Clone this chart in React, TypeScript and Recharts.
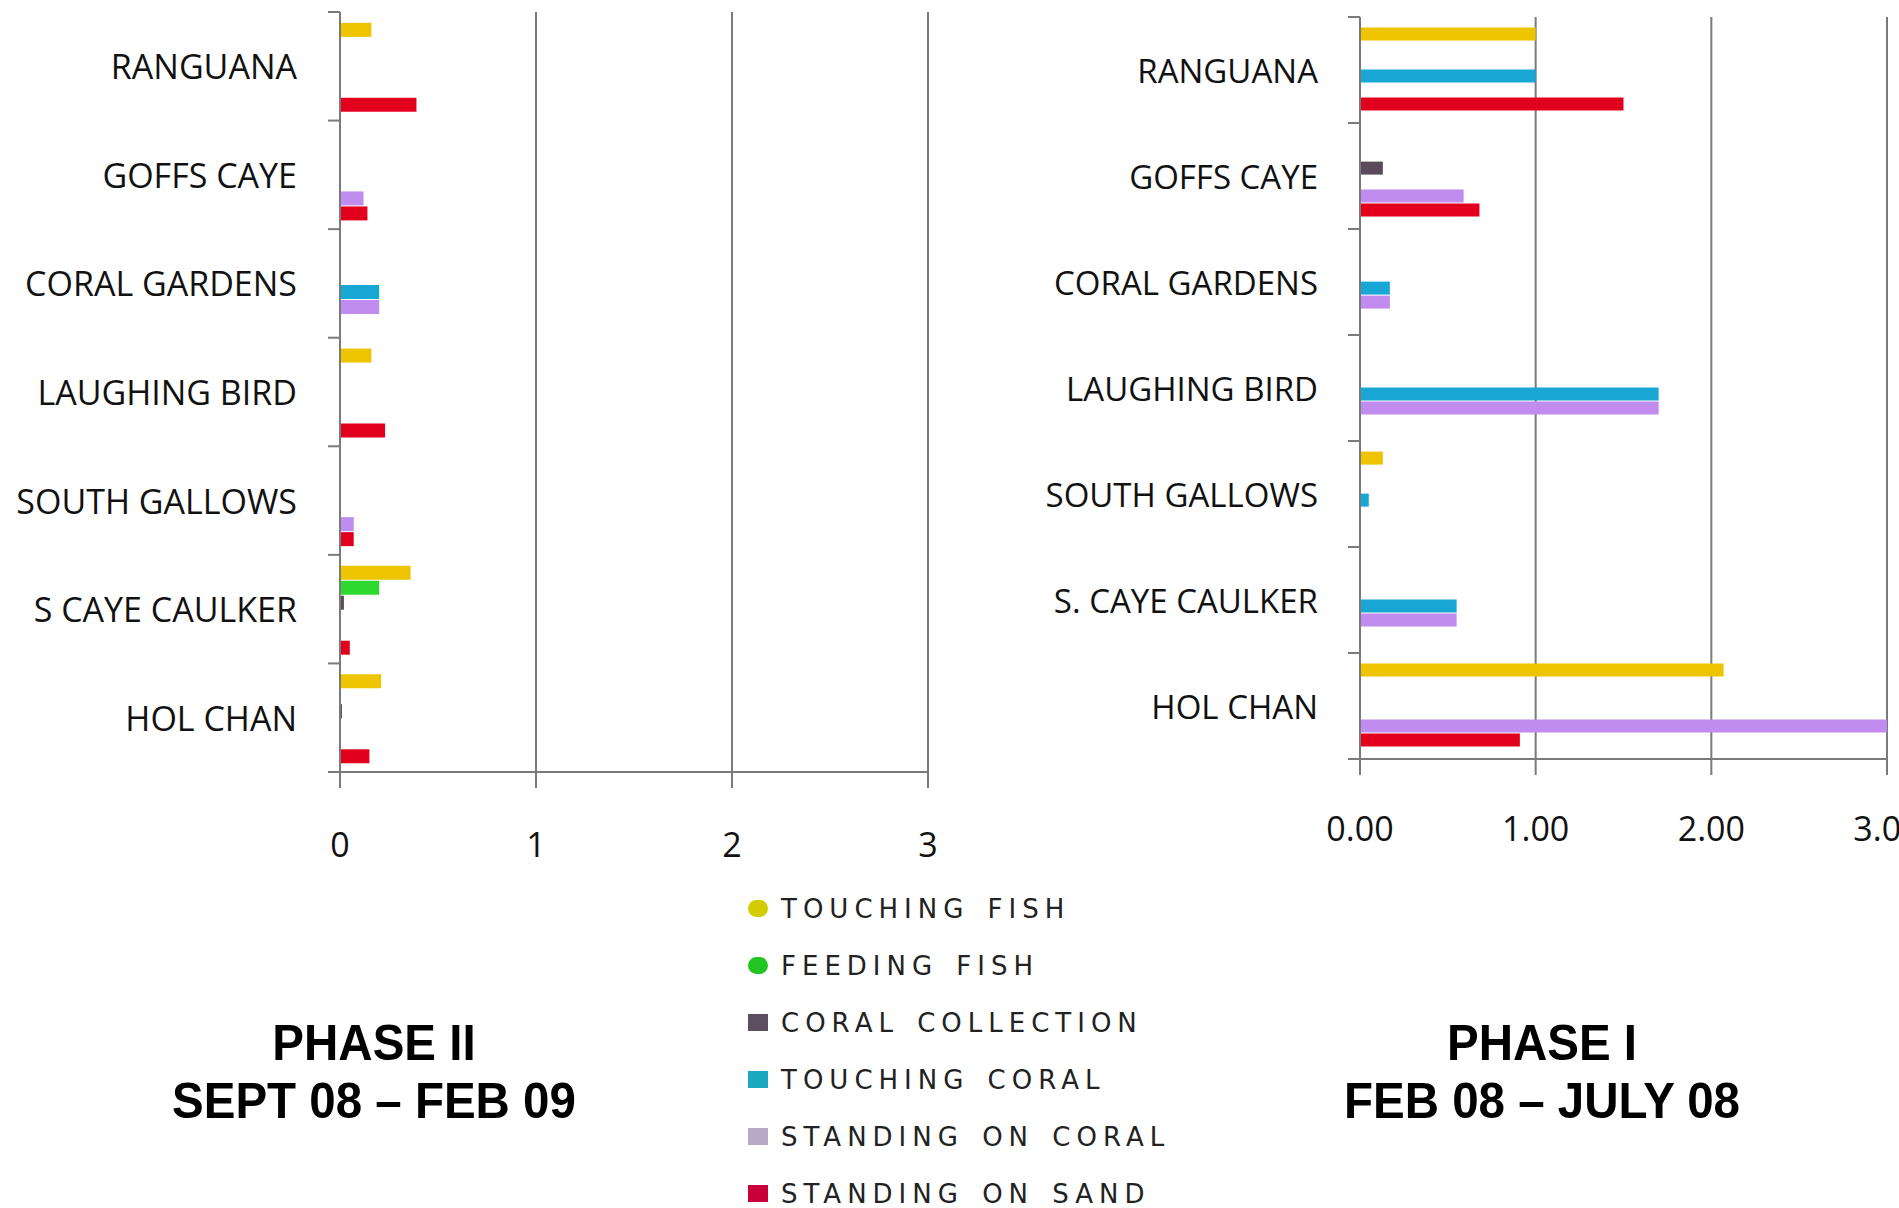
import { Bar, BarChart, CartesianGrid, XAxis, YAxis } from "recharts"

// categories (top to bottom)
const sitesPhase2 = ["RANGUANA", "GOFFS CAYE", "CORAL GARDENS", "LAUGHING BIRD", "SOUTH GALLOWS", "S CAYE CAULKER", "HOL CHAN"]
const sitesPhase1 = ["RANGUANA", "GOFFS CAYE", "CORAL GARDENS", "LAUGHING BIRD", "SOUTH GALLOWS", "S. CAYE CAULKER", "HOL CHAN"]

// PHASE II  SEPT 08 – FEB 09
const touchingFish2 = [0.16, 0, 0, 0.16, 0, 0.36, 0.21]
const feedingFish2 = [0, 0, 0, 0, 0, 0.2, 0]
const coralCollection2 = [0, 0, 0, 0, 0, 0.02, 0.01]
const touchingCoral2 = [0, 0, 0.2, 0, 0, 0, 0]
const standingCoral2 = [0, 0.12, 0.2, 0, 0.07, 0, 0]
const standingSand2 = [0.39, 0.14, 0, 0.23, 0.07, 0.05, 0.15]

// PHASE I  FEB 08 – JULY 08
const touchingFish1 = [1.0, 0, 0, 0, 0.13, 0, 2.07]
const feedingFish1 = [0, 0, 0, 0, 0, 0, 0]
const coralCollection1 = [0, 0.13, 0, 0, 0, 0, 0]
const touchingCoral1 = [1.0, 0, 0.17, 1.7, 0.05, 0.55, 0]
const standingCoral1 = [0, 0.59, 0.17, 1.7, 0, 0.55, 3.0]
const standingSand1 = [1.5, 0.68, 0, 0, 0, 0, 0.91]

const xTicks = [0, 1, 2, 3]

const series = [
  { key: "touchingFish", label: "TOUCHING FISH", color: "#EEC400", legend: "#D2CC00", round: true },
  { key: "feedingFish", label: "FEEDING FISH", color: "#2ED82E", legend: "#22C422", round: true },
  { key: "coralCollection", label: "CORAL COLLECTION", color: "#5A4A5C", legend: "#5E4E62", round: false },
  { key: "touchingCoral", label: "TOUCHING CORAL", color: "#18A6D4", legend: "#1AA8C0", round: false },
  { key: "standingCoral", label: "STANDING ON CORAL", color: "#C08CEE", legend: "#B8A8C8", round: false },
  { key: "standingSand", label: "STANDING ON SAND", color: "#E2001E", legend: "#C8003A", round: false },
]

const buildRows = (sites: string[], cols: number[][]) =>
  sites.map((site, i) => {
    const row: any = { site }
    series.forEach((s, j) => {
      row[s.key] = cols[j][i]
    })
    return row
  })

const phase2Rows = buildRows(sitesPhase2, [touchingFish2, feedingFish2, coralCollection2, touchingCoral2, standingCoral2, standingSand2])
const phase1Rows = buildRows(sitesPhase1, [touchingFish1, feedingFish1, coralCollection1, touchingCoral1, standingCoral1, standingSand1])

const AXIS = "#7a7a7a"

interface PhaseChartProps {
  data: any[]
  left: number
  width: number
  height: number
  axisX: number
  plotTop: number
  plotBottom: number
  plotRight: number
  catFont: number
  labelGap: number
  tickLabelY: number
  decimals: number
}

function PhaseChart(p: PhaseChartProps) {
  const xAxisHeight = 100
  const band = (p.plotBottom - p.plotTop) / p.data.length

  const CatTick = ({ y, payload, index }: any) => (
    <g>
      <text
        x={p.axisX - p.labelGap}
        y={y}
        textAnchor="end"
        dominantBaseline="central"
        fontFamily="'Open Sans', sans-serif"
        fontSize={p.catFont}
        fill="#111"
      >
        {payload.value}
      </text>
      <line x1={p.axisX - 12} x2={p.axisX} y1={y - band / 2} y2={y - band / 2} stroke={AXIS} strokeWidth={2} />
      {index === p.data.length - 1 && (
        <line x1={p.axisX - 12} x2={p.axisX} y1={y + band / 2} y2={y + band / 2} stroke={AXIS} strokeWidth={2} />
      )}
    </g>
  )

  const NumTick = ({ x, payload }: any) => (
    <text
      x={x}
      y={p.tickLabelY}
      textAnchor="middle"
      dominantBaseline="central"
      fontFamily="'Open Sans', sans-serif"
      fontSize={34}
      fill="#111"
    >
      {Number(payload.value).toFixed(p.decimals)}
    </text>
  )

  return (
    <div style={{ position: "absolute", left: p.left, top: 0 }}>
      <BarChart
        width={p.width}
        height={p.height}
        data={p.data}
        layout="vertical"
        barCategoryGap="10%"
        barGap={1}
        margin={{
          top: p.plotTop,
          right: p.width - p.plotRight,
          bottom: p.height - p.plotBottom - xAxisHeight,
          left: 0,
        }}
      >
        <CartesianGrid horizontal={false} stroke={AXIS} strokeWidth={2} />
        <XAxis
          type="number"
          domain={[0, 3]}
          ticks={xTicks}
          height={xAxisHeight}
          axisLine={{ stroke: AXIS, strokeWidth: 2 }}
          tickLine={{ stroke: AXIS, strokeWidth: 2 }}
          tickSize={16}
          tick={<NumTick />}
          allowDataOverflow
        />
        <YAxis
          type="category"
          dataKey="site"
          width={p.axisX}
          axisLine={{ stroke: AXIS, strokeWidth: 2 }}
          tickLine={false}
          tick={<CatTick />}
          interval={0}
        />
        {series.map((s) => (
          <Bar key={s.key} dataKey={s.key} fill={s.color} isAnimationActive={false} />
        ))}
      </BarChart>
    </div>
  )
}

const titleStyle = {
  position: "absolute" as const,
  width: 700,
  textAlign: "center" as const,
  fontFamily: "'Liberation Sans', Arial, sans-serif",
  fontWeight: 700,
  fontSize: 50,
  lineHeight: "58px",
  color: "#000",
  transform: "scaleX(0.95)",
}

export default function App() {
  return (
    <div style={{ position: "absolute", left: 0, top: 0, width: 1899, height: 1208, background: "#fff", overflow: "hidden" }}>
      <PhaseChart
        data={phase2Rows}
        left={0}
        width={1000}
        height={900}
        axisX={340}
        plotTop={12}
        plotBottom={772}
        plotRight={928}
        catFont={34}
        labelGap={43}
        tickLabelY={844}
        decimals={0}
      />
      <PhaseChart
        data={phase1Rows}
        left={1000}
        width={899}
        height={900}
        axisX={360}
        plotTop={17}
        plotBottom={759}
        plotRight={887}
        catFont={33}
        labelGap={42}
        tickLabelY={828}
        decimals={2}
      />

      <div style={{ ...titleStyle, left: 374 - 350, top: 1014 }}>
        PHASE II
        <br />
        SEPT 08 – FEB 09
      </div>
      <div style={{ ...titleStyle, left: 1542 - 350, top: 1014 }}>
        PHASE I
        <br />
        FEB 08 – JULY 08
      </div>

      <div style={{ position: "absolute", left: 748, top: 880 }}>
        {series.map((s) => (
          <div key={s.key} style={{ display: "flex", alignItems: "center", height: 57 }}>
            <div
              style={{
                width: 20,
                height: 17,
                background: s.legend,
                borderRadius: s.round ? 9 : 0,
                marginRight: 13,
              }}
            />
            <span
              style={{
                fontFamily: "'DejaVu Sans', Verdana, sans-serif",
                fontSize: 26,
                letterSpacing: 6,
                wordSpacing: 4,
                color: "#222",
                whiteSpace: "pre",
              }}
            >
              {s.label}
            </span>
          </div>
        ))}
      </div>
    </div>
  )
}
